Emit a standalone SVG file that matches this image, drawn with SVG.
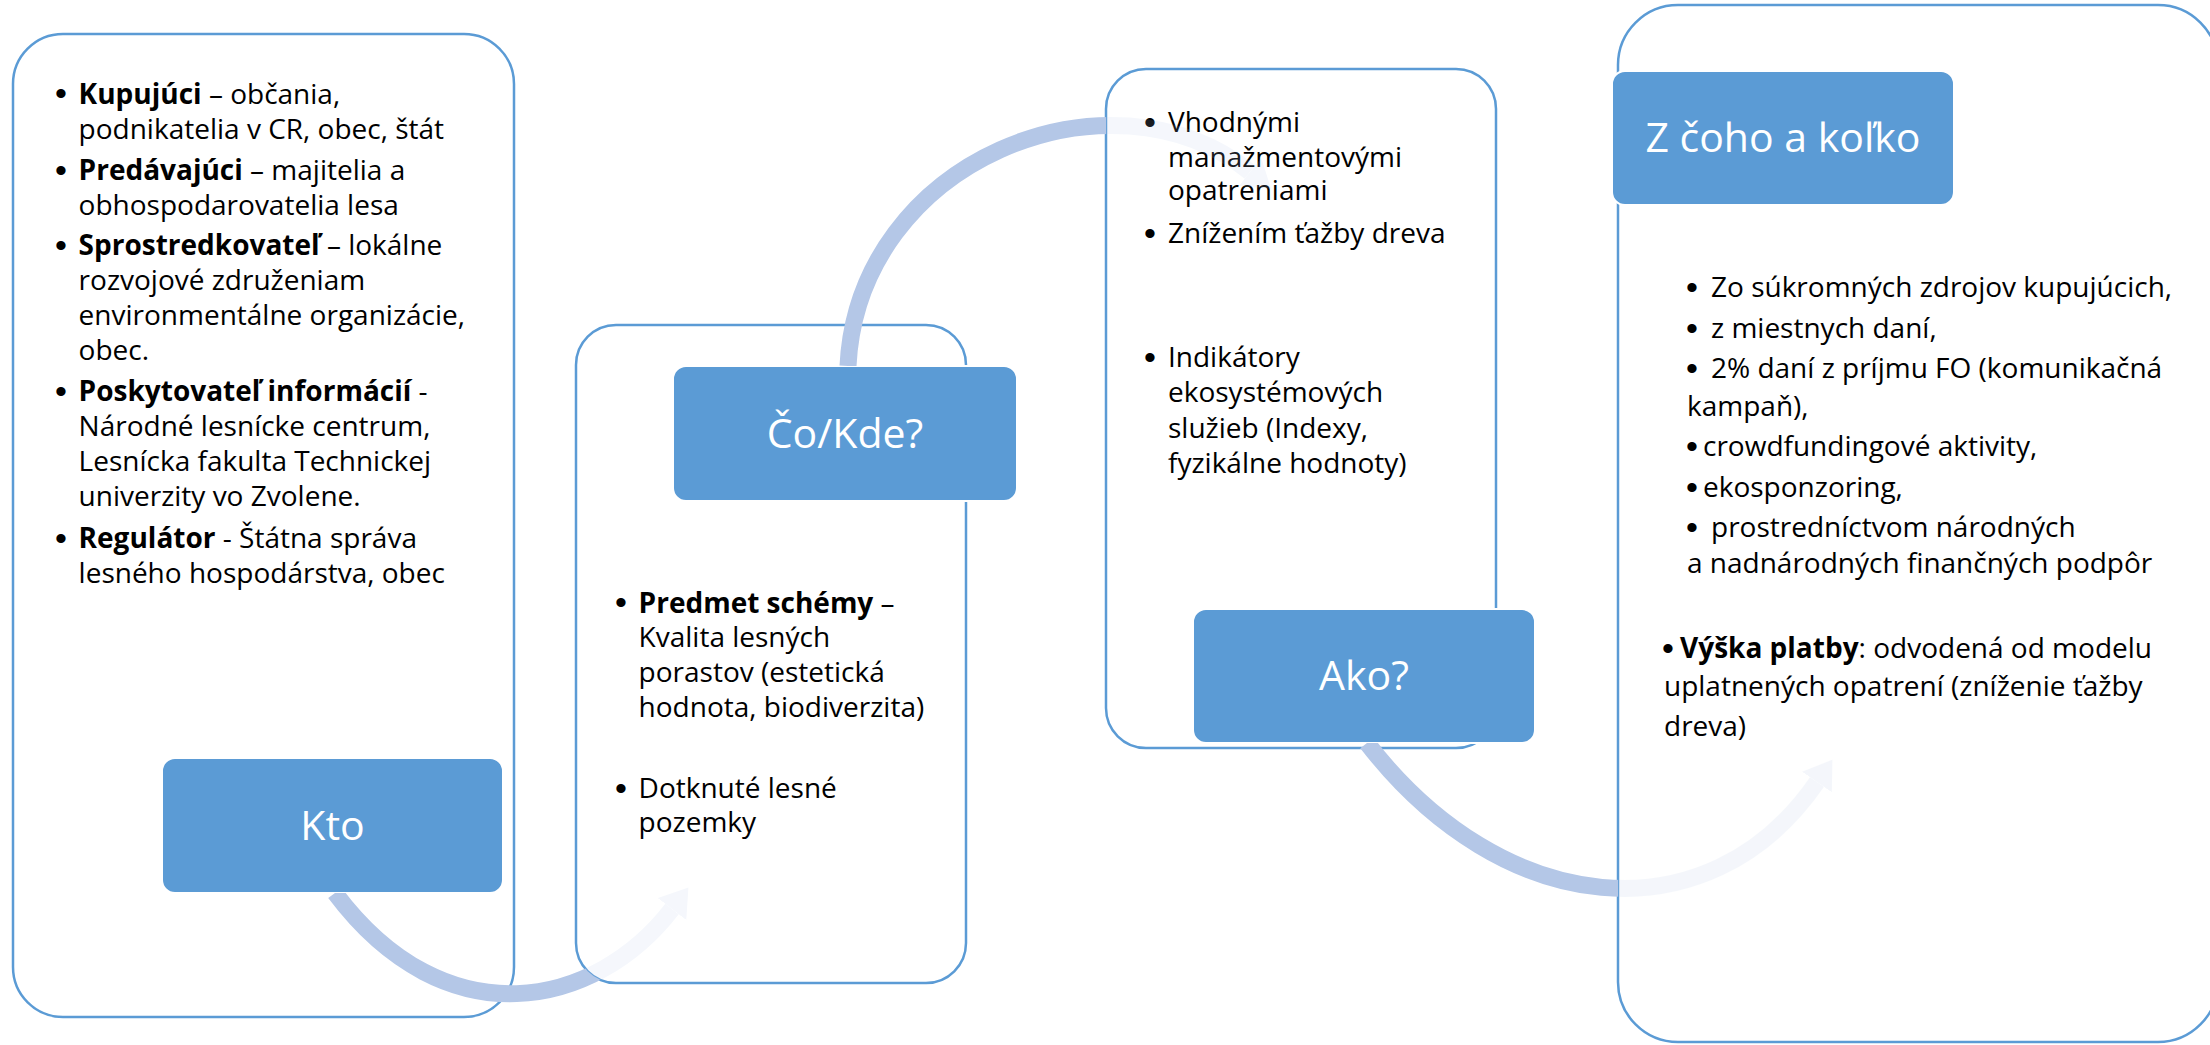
<svg xmlns="http://www.w3.org/2000/svg" width="2210" height="1045" viewBox="0 0 2210 1045">
<defs>
<style>
.box{fill:#fff;stroke:#5B9BD5;stroke-width:2.5}
.lbl{fill:#5B9BD5;stroke:#fff;stroke-width:2}
.t{font-family:"Open Sans","Liberation Sans",sans-serif;font-size:28px;fill:#000}
.bu{font-family:"Liberation Sans","DejaVu Sans",sans-serif;font-size:34px;fill:#000}
.b{font-weight:bold}
.lt{font-family:"Open Sans","Liberation Sans",sans-serif;font-size:41px;fill:#fff;text-anchor:middle}
.arc{fill:none;stroke:#B4C7E7;stroke-width:17}
.pale{opacity:0.14}
</style>
<marker id="head" markerUnits="userSpaceOnUse" markerWidth="28" markerHeight="36" refX="0" refY="18" orient="auto" viewBox="0 0 28 36">
<path d="M0,0 L27,18 L0,36 Z" fill="#B4C7E7"/>
</marker>
<clipPath id="out1"><path clip-rule="evenodd" d="M0,0H2210V1045H0Z M616,325H926A40,40 0 0 1 966,365V943A40,40 0 0 1 926,983H616A40,40 0 0 1 576,943V365A40,40 0 0 1 616,325Z M162,758H503V893H162Z"/></clipPath>
<clipPath id="in1"><path d="M616,325H926A40,40 0 0 1 966,365V943A40,40 0 0 1 926,983H616A40,40 0 0 1 576,943V365A40,40 0 0 1 616,325Z"/></clipPath>
<clipPath id="out2"><path clip-rule="evenodd" d="M0,0H2210V1045H0Z M1146,69H1456A40,40 0 0 1 1496,109V708A40,40 0 0 1 1456,748H1146A40,40 0 0 1 1106,708V109A40,40 0 0 1 1146,69Z M673,366H1017V501H673Z"/></clipPath>
<clipPath id="in2"><path d="M1146,69H1456A40,40 0 0 1 1496,109V708A40,40 0 0 1 1456,748H1146A40,40 0 0 1 1106,708V109A40,40 0 0 1 1146,69Z"/></clipPath>
<clipPath id="out3"><path clip-rule="evenodd" d="M0,0H2210V1045H0Z M1678,5H2158A60,60 0 0 1 2218,65V982A60,60 0 0 1 2158,1042H1678A60,60 0 0 1 1618,982V65A60,60 0 0 1 1678,5Z M1193,609H1535V743H1193Z"/></clipPath>
<clipPath id="in3"><path d="M1678,5H2158A60,60 0 0 1 2218,65V982A60,60 0 0 1 2158,1042H1678A60,60 0 0 1 1618,982V65A60,60 0 0 1 1678,5Z"/></clipPath>
</defs>
<rect width="2210" height="1045" fill="#fff"/>

<g id="node-kto">
<rect class="box" x="13" y="34" width="501" height="983" rx="50"/>
<text class="bu" x="55" y="105">•</text>
<text class="t" x="78.6" y="103.5"><tspan class="b">Kupujúci</tspan> – občania,</text>
<text class="t" x="78.6" y="138.5">podnikatelia v CR, obec, štát</text>
<text class="bu" x="55" y="181.5">•</text>
<text class="t" x="78.6" y="180"><tspan class="b">Predávajúci</tspan> – majitelia a</text>
<text class="t" x="78.6" y="215">obhospodarovatelia lesa</text>
<text class="bu" x="55" y="256.5">•</text>
<text class="t" x="78.6" y="255"><tspan class="b">Sprostredkovateľ</tspan> – lokálne</text>
<text class="t" x="78.6" y="290">rozvojové združeniam</text>
<text class="t" x="78.6" y="325">environmentálne organizácie,</text>
<text class="t" x="78.6" y="360">obec.</text>
<text class="bu" x="55" y="402.5">•</text>
<text class="t" x="78.6" y="401"><tspan class="b">Poskytovateľ informácií</tspan> -</text>
<text class="t" x="78.6" y="436">Národné lesnícke centrum,</text>
<text class="t" x="78.6" y="471">Lesnícka fakulta Technickej</text>
<text class="t" x="78.6" y="506">univerzity vo Zvolene.</text>
<text class="bu" x="55" y="549.5">•</text>
<text class="t" x="78.6" y="548"><tspan class="b">Regulátor</tspan> - Štátna správa</text>
<text class="t" x="78.6" y="583">lesného hospodárstva, obec</text>
<rect class="lbl" x="162" y="758" width="341" height="135" rx="13"/>
<text class="lt" x="332.5" y="840">Kto</text>
</g>

<g id="node-co-kde">
<rect class="box" x="576" y="325" width="390" height="658" rx="40"/>
<text class="bu" x="615" y="614">•</text>
<text class="t" x="638.6" y="612.5"><tspan class="b">Predmet schémy</tspan> –</text>
<text class="t" x="638.6" y="647">Kvalita lesných</text>
<text class="t" x="638.6" y="682">porastov (estetická</text>
<text class="t" x="638.6" y="717">hodnota, biodiverzita)</text>
<text class="bu" x="615" y="799.5">•</text>
<text class="t" x="638.6" y="798">Dotknuté lesné</text>
<text class="t" x="638.6" y="832">pozemky</text>
<rect class="lbl" x="673" y="366" width="344" height="135" rx="13"/>
<text class="lt" x="845" y="448">Čo/Kde?</text>
</g>

<g id="node-ako">
<rect class="box" x="1106" y="69" width="390" height="679" rx="40"/>
<text class="bu" x="1144" y="133.5">•</text>
<text class="t" x="1168" y="132">Vhodnými</text>
<text class="t" x="1168" y="167">manažmentovými</text>
<text class="t" x="1168" y="200">opatreniami</text>
<text class="bu" x="1144" y="244.5">•</text>
<text class="t" x="1168" y="243">Znížením ťažby dreva</text>
<text class="bu" x="1144" y="368.5">•</text>
<text class="t" x="1168" y="367">Indikátory</text>
<text class="t" x="1168" y="402">ekosystémových</text>
<text class="t" x="1168" y="438">služieb (Indexy,</text>
<text class="t" x="1168" y="473">fyzikálne hodnoty)</text>
<rect class="lbl" x="1193" y="609" width="342" height="134" rx="13"/>
<text class="lt" x="1364" y="690">Ako?</text>
</g>

<g id="node-z-coho">
<rect class="box" x="1618" y="5" width="600" height="1037" rx="60"/>
<text class="bu" x="1686" y="298.5">•</text>
<text class="t" x="1711" y="297">Zo súkromných zdrojov kupujúcich,</text>
<text class="bu" x="1686" y="339.5">•</text>
<text class="t" x="1711" y="338">z miestnych daní,</text>
<text class="bu" x="1686" y="379.5">•</text>
<text class="t" x="1711" y="378">2% daní z príjmu FO (komunikačná</text>
<text class="t" x="1687" y="416">kampaň),</text>
<text class="bu" x="1686" y="457.5">•</text>
<text class="t" x="1703" y="456">crowdfundingové aktivity,</text>
<text class="bu" x="1686" y="498.5">•</text>
<text class="t" x="1703" y="497">ekosponzoring,</text>
<text class="bu" x="1686" y="538.5">•</text>
<text class="t" x="1711" y="537">prostredníctvom národných</text>
<text class="t" x="1687" y="573">a nadnárodných finančných podpôr</text>
<text class="bu" x="1662" y="659.5">•</text>
<text class="t" x="1680" y="658"><tspan class="b">Výška platby</tspan>: odvodená od modelu</text>
<text class="t" x="1664" y="696">uplatnených opatrení (zníženie ťažby</text>
<text class="t" x="1664" y="736">dreva)</text>
<rect class="lbl" x="1612" y="71" width="342" height="134" rx="13"/>
<text class="lt" x="1783" y="152">Z čoho a koľko</text>
</g>

<g id="connectors">
<g id="arrow-kto-co">
<path class="arc" clip-path="url(#out1)" d="M335,893 C446,1041 596,1008 672,909"/>
<g clip-path="url(#in1)"><g class="pale"><path class="arc" d="M335,893 C446,1041 596,1008 672,909" marker-end="url(#head)"/></g></g>
</g>
<g id="arrow-co-ako">
<path class="arc" clip-path="url(#out2)" d="M848,366 C858,160 1110,60 1250,172"/>
<g clip-path="url(#in2)"><g class="pale"><path class="arc" d="M848,366 C858,160 1110,60 1250,172" marker-end="url(#head)"/></g></g>
</g>
<g id="arrow-ako-z">
<path class="arc" clip-path="url(#out3)" d="M1367,743 C1502,918 1708,940 1817,782"/>
<g clip-path="url(#in3)"><g class="pale"><path class="arc" d="M1367,743 C1502,918 1708,940 1817,782" marker-end="url(#head)"/></g></g>
</g>
</g>
</svg>
